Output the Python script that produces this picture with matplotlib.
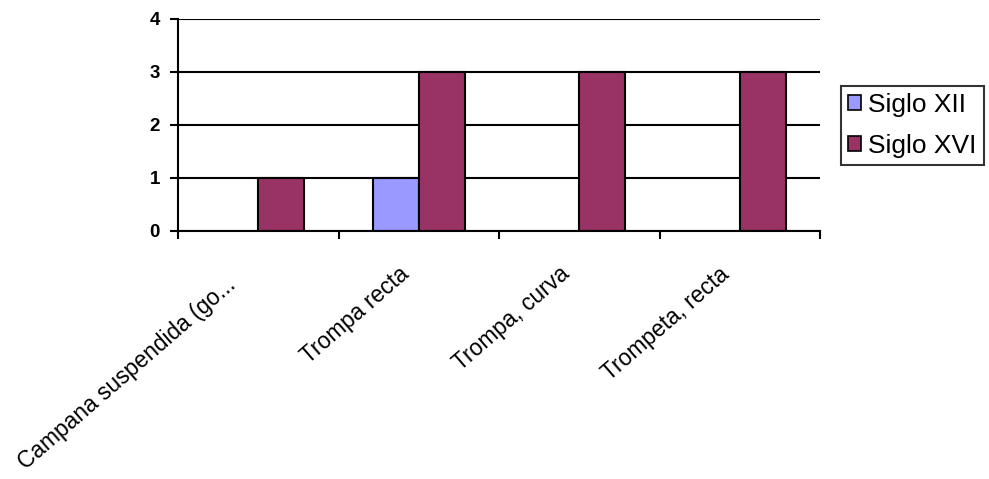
import matplotlib
matplotlib.use("Agg")
import matplotlib.pyplot as plt
import matplotlib.transforms as mtransforms
import numpy as np
from matplotlib.patches import Patch

plt.rcParams['font.family'] = ['Liberation Sans', 'DejaVu Sans']

categories = ["Campana suspendida (go...", "Trompa recta", "Trompa, curva", "Trompeta, recta"]
series_names = ["Siglo XII", "Siglo XVI"]
siglo_xii = [0, 1, 0, 0]
siglo_xvi = [1, 3, 3, 3]
colors = ["#9999FF", "#993366"]

fig = plt.figure(figsize=(9.89, 4.79), dpi=100)
ax = fig.add_axes([178/989, 1-231/479, (820-178)/989, (231-19)/479])

x = np.arange(len(categories))
w = 1/3.5
for vals, off, c in [(siglo_xii, -w/2, colors[0]), (siglo_xvi, w/2, colors[1])]:
    v = np.array(vals, dtype=float)
    mask = v > 0
    ax.bar(x[mask] + off, v[mask], width=w, color=c, edgecolor='black', linewidth=1.5, zorder=3)

ax.set_xlim(-0.5, len(categories) - 0.5)
ax.set_ylim(0, 4)
ax.set_yticks([0, 1, 2, 3, 4])
ax.set_yticklabels(["0", "1", "2", "3", "4"], fontweight='bold', fontsize=13.5)
ax.yaxis.grid(True, color='black', linewidth=1.5, zorder=0)
ax.set_axisbelow(True)

ax.set_xticks(np.arange(len(categories) + 1) - 0.5)
ax.set_xticklabels([])
ax.tick_params(axis='x', which='major', length=6, width=1.5, direction='out')
ax.tick_params(axis='y', length=6, width=1.5, direction='out', pad=7)

# category labels, baseline end anchored below each category centre (offsets in pixels)
label_offsets = [(-21, -56), (-9, -45), (-9, -45), (-9, -45)]
xt = ax.get_xaxis_transform()
for xi, lab, (dx, dy) in zip(x, categories, label_offsets):
    tr = xt + mtransforms.ScaledTranslation(dx / 100, dy / 100, fig.dpi_scale_trans)
    ax.text(xi, 0, lab, transform=tr, rotation=41, ha='right', va='baseline',
            rotation_mode='anchor', fontsize=16.4, clip_on=False)

for s in ['top', 'right']:
    ax.spines[s].set_visible(False)
for s in ['left', 'bottom']:
    ax.spines[s].set_linewidth(1.5)
    ax.spines[s].set_zorder(4)

handles = [Patch(facecolor=colors[i], edgecolor='black', linewidth=1.2, label=series_names[i]) for i in range(2)]
leg = fig.legend(handles=handles, loc='upper left', bbox_to_anchor=(841/989, 1-86/479),
                 fontsize=19, frameon=True, fancybox=False, edgecolor='black',
                 handlelength=0.5, handleheight=0.5, handletextpad=0.27, borderpad=0.27,
                 labelspacing=0.63, borderaxespad=0)
leg.get_frame().set_linewidth(1.5)

fig.savefig("out.png", dpi=100)
